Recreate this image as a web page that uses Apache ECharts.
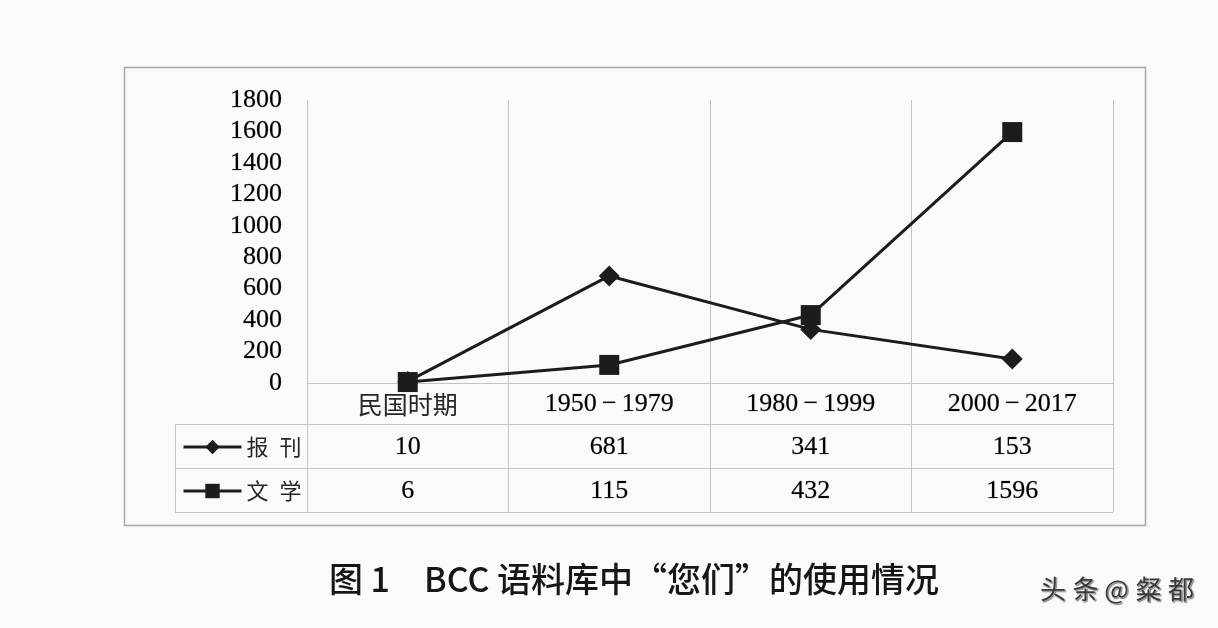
<!DOCTYPE html>
<html>
<head>
<meta charset="utf-8">
<script src="https://cdn.jsdelivr.net/npm/echarts@6/dist/echarts.min.js"></script>
<style>
  html, body { margin: 0; padding: 0; background: #fafafa; }
  #chart { width: 1218px; height: 628px; }
</style>
</head>
<body>
<div id="chart"></div>
<script>
// Periods and yearly counts of “您们” in the BCC corpus
const periods = ['民国时期', '1950\u2009\u2212\u20091979', '1980\u2009\u2212\u20091999', '2000\u2009\u2212\u20092017'];
const seriesNames = ['报刊', '文学'];
const baokan = [10, 681, 341, 153];
const wenxue = [6, 115, 432, 1596];
const yTicks = [0, 200, 400, 600, 800, 1000, 1200, 1400, 1600, 1800];

const serif = "'Liberation Serif', 'Noto Sans CJK SC', serif";
const cjk = "'Noto Sans CJK SC', sans-serif";
const gridColor = '#c4c4c4';
const ink = '#1c1c1c';
const textInk = '#000000';

const chart = echarts.init(document.getElementById('chart'), null, { renderer: 'canvas' });

// helper: a plain value row of the data table, laid out as an extra category axis
function valueRow(values, margin) {
  return {
    type: 'category',
    position: 'bottom',
    data: values.map(String),
    boundaryGap: true,
    axisLine: { show: false },
    axisTick: { show: false },
    splitLine: { show: false },
    axisLabel: {
      interval: 0, margin: margin, verticalAlign: 'middle',
      fontFamily: serif, fontSize: 26, color: textInk,
      textBorderColor: 'rgba(0,0,0,0.35)', textBorderWidth: 0.6
    }
  };
}

const option = {
  backgroundColor: '#fafafa',
  animation: false,
  grid: { left: 307, right: 105, top: 100, bottom: 245, containLabel: false },
  xAxis: [
    {
      type: 'category',
      position: 'bottom',
      data: periods,
      boundaryGap: true,
      axisLine: { show: true, onZero: false, lineStyle: { color: gridColor, width: 1 } },
      axisTick: { show: true, interval: 0, length: 129, lineStyle: { color: gridColor, width: 1 } },
      splitLine: { show: true, interval: 0, lineStyle: { color: gridColor, width: 1 } },
      axisLabel: {
        interval: 0, margin: 21, verticalAlign: 'middle',
        fontFamily: serif, fontSize: 26, color: textInk,
        formatter: v => /\d/.test(v) ? '{num|' + v + '}' : '{cn|' + v + '}',
        rich: {
          num: { fontFamily: serif, fontSize: 26, color: textInk,
                 textBorderColor: 'rgba(0,0,0,0.35)', textBorderWidth: 0.6 },
          cn: { fontFamily: cjk, fontSize: 25, color: '#262626' }
        }
      }
    },
    valueRow(baokan, 64),
    valueRow(wenxue, 108)
  ],
  yAxis: {
    type: 'value',
    min: yTicks[0],
    max: yTicks[yTicks.length - 1],
    interval: yTicks[1] - yTicks[0],
    axisLine: { show: false },
    axisTick: { show: false },
    splitLine: { show: false },
    axisLabel: {
      margin: 25, fontFamily: serif, fontSize: 26, color: textInk,
      textBorderColor: 'rgba(0,0,0,0.35)', textBorderWidth: 0.6,
      formatter: v => String(v)
    }
  },
  legend: {
    orient: 'vertical',
    left: 182,
    top: 435,
    padding: 0,
    itemWidth: 58,
    itemHeight: 18,
    itemGap: 20,
    selectedMode: false,
    lineStyle: { width: 3, color: ink },
    formatter: name => name.split('').join('\u2002'),
    textStyle: { fontFamily: cjk, fontSize: 22, lineHeight: 24, color: '#262626' },
    data: seriesNames
  },
  series: [
    {
      name: seriesNames[0],
      type: 'line',
      data: baokan,
      symbol: 'diamond',
      symbolSize: 21,
      lineStyle: { color: ink, width: 3 },
      itemStyle: { color: ink },
      z: 3
    },
    {
      name: seriesNames[1],
      type: 'line',
      data: wenxue,
      symbol: 'rect',
      symbolSize: 20,
      lineStyle: { color: ink, width: 3 },
      itemStyle: { color: ink },
      z: 4
    }
  ],
  graphic: [
    // outer chart frame
    { type: 'rect', silent: true, shape: { x: 124.5, y: 67.5, width: 1021, height: 458 },
      style: { fill: null, stroke: '#a8a8a8', lineWidth: 1.5 } },
    // data table rules
    { type: 'line', silent: true, shape: { x1: 175, y1: 424.5, x2: 1113, y2: 424.5 }, style: { stroke: gridColor, lineWidth: 1 } },
    { type: 'line', silent: true, shape: { x1: 175, y1: 468.5, x2: 1113, y2: 468.5 }, style: { stroke: gridColor, lineWidth: 1 } },
    { type: 'line', silent: true, shape: { x1: 175, y1: 512.5, x2: 1113, y2: 512.5 }, style: { stroke: gridColor, lineWidth: 1 } },
    { type: 'line', silent: true, shape: { x1: 175.5, y1: 424, x2: 175.5, y2: 513 }, style: { stroke: gridColor, lineWidth: 1 } },
    // figure caption
    { type: 'text', silent: true, x: 634, y: 562,
      style: { text: '图 1\u3000BCC 语料库中“您们”的使用情况', font: "500 34px 'Noto Sans CJK SC', sans-serif",
               fill: '#161616', textAlign: 'center' } },
    // source mark
    { type: 'text', silent: true, x: 1040, y: 576,
      style: { text: '头\u2005条 @\u2005粲\u2005都', font: "26px 'Noto Sans CJK SC', sans-serif",
               fill: '#3a3a3a', stroke: '#ffffff', lineWidth: 1,
               textShadowColor: 'rgba(0,0,0,0.35)', textShadowBlur: 1, textShadowOffsetX: 1, textShadowOffsetY: 1 } }
  ]
};

chart.setOption(option);
</script>
</body>
</html>
